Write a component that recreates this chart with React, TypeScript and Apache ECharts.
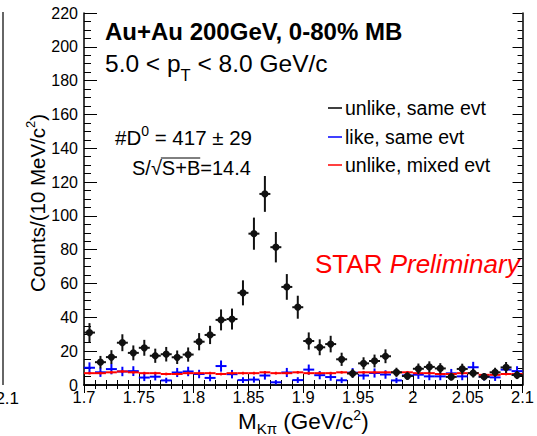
import React, { useEffect, useRef } from "react";
import * as echarts from "echarts";

const massBins = [
  1.705, 1.715, 1.725, 1.735, 1.745, 1.755, 1.765, 1.775, 1.785, 1.795,
  1.805, 1.815, 1.825, 1.835, 1.845, 1.855, 1.865, 1.875, 1.885, 1.895,
  1.905, 1.915, 1.925, 1.935, 1.945, 1.955, 1.965, 1.975, 1.985, 1.995,
  2.005, 2.015, 2.025, 2.035, 2.045, 2.055, 2.065, 2.075, 2.085, 2.095,
];
const unlikeSame = [
  31, 13.5, 16.5, 25, 19, 22, 17.3, 18.2, 16.4, 18,
  25.6, 29.6, 38.5, 39, 54.5, 89.5, 113, 81.5, 58, 46,
  26, 22.3, 24.2, 15.2, 6.8, 12.8, 14.2, 17, 7.5, 5.3,
  9.6, 10.7, 9.8, 4.8, 9.5, 7, 4.9, 7.5, 10.4, 5.9,
];
const unlikeSameErr = [
  5.6, 3.7, 4.1, 5, 4.4, 4.7, 4.2, 4.3, 4, 4.2,
  5.1, 5.4, 6.2, 6.2, 7.4, 9.5, 10.6, 9, 7.6, 6.8,
  5.1, 4.7, 4.9, 3.9, 2.6, 3.6, 3.8, 4.1, 2.7, 2.3,
  3.1, 3.3, 3.1, 2.2, 3.1, 2.6, 2.2, 2.7, 3.2, 2.4,
];
const likeSame = [
  10.2, 7.5, 9.4, 8, 8.2, 4.4, 4.9, 2.7, 7.4, 8,
  6.5, 4.2, 11.2, 6.4, 2.9, 3.2, 5.6, 1.6, 7.4, 2.9,
  9.1, 5.8, 4.7, 2.8, 7.3, 5.6, 7.1, 6.2, 2.7, 5.7,
  6.1, 5.1, 5.1, 6.9, 5.1, 10.5, 4.9, 4.5, 9.1, 8.2,
];
const likeSameErr = [
  3.2, 2.7, 3.1, 2.8, 2.9, 2.1, 2.2, 1.6, 2.7, 2.8,
  2.5, 2, 3.3, 2.5, 1.7, 1.8, 2.4, 1.3, 2.7, 1.7,
  3, 2.4, 2.2, 1.7, 2.7, 2.4, 2.7, 2.5, 1.6, 2.4,
  2.5, 2.3, 2.3, 2.6, 2.3, 3.2, 2.2, 2.1, 3, 2.9,
];
const unlikeMixed = [
  7, 7, 7.5, 8, 7.5, 7, 7, 6.5, 6.5, 7,
  7, 7, 6.5, 7, 7, 7, 7.5, 7, 7, 7.5,
  7, 7, 7, 7.5, 7, 7.5, 7.5, 7.5, 7.5, 7.5,
  7, 7, 6.5, 6.5, 7, 7, 6, 6, 6.5, 6.5,
];
const unlikeMixedErr = [
  0.8, 0.8, 0.8, 0.8, 0.8, 0.8, 0.8, 0.8, 0.8, 0.8,
  0.8, 0.8, 0.8, 0.8, 0.8, 0.8, 0.8, 0.8, 0.8, 0.8,
  0.8, 0.8, 0.8, 0.8, 0.8, 0.8, 0.8, 0.8, 0.8, 0.8,
  0.8, 0.8, 0.8, 0.8, 0.8, 0.8, 0.8, 0.8, 0.8, 0.8,
];
const legendNames = ["unlike, same evt", "like, same evt", "unlike, mixed evt"];
const legendColors = ["#000000", "#0000ff", "#ff0000"];

const FAMILY = "'Liberation Sans', Arial, Helvetica, sans-serif";

let ctx: CanvasRenderingContext2D | null = null;
function measure(text: string, size: number, weight = "normal", style = "normal") {
  if (!ctx) ctx = document.createElement("canvas").getContext("2d");
  ctx!.font = `${style} ${weight} ${size}px ${FAMILY}`;
  return ctx!.measureText(text).width;
}

type Run = { text: string; size: number; dy?: number; weight?: string; style?: string; fill?: string };
function runs(list: Run[], x0: number, baseline: number, fill = "#000") {
  const out: any[] = [];
  let x = x0;
  for (const r of list) {
    const w = measure(r.text, r.size, r.weight || "normal", r.style || "normal");
    const b = baseline + (r.dy || 0);
    out.push({
      type: "text",
      silent: true,
      style: {
        text: r.text,
        x,
        y: b - 0.346 * r.size,
        fontSize: r.size,
        fontFamily: FAMILY,
        fontWeight: r.weight || "normal",
        fontStyle: r.style || "normal",
        fill: r.fill || fill,
        align: "left",
        verticalAlign: "middle",
        textAlign: "left",
        textVerticalAlign: "middle",
      },
    });
    x += w;
  }
  return { els: out, end: x };
}

function errSeries(name: string, vals: number[], errs: number[], color: string, lw: number, marker: number, z: number) {
  return {
    type: "custom",
    name,
    xAxisIndex: 0,
    yAxisIndex: 0,
    clip: true,
    z,
    encode: { x: 0, y: 1 },
    data: massBins.map((m, i) => [m, vals[i], errs[i]]),
    renderItem: (_p: any, api: any) => {
      const x = api.value(0);
      const y = api.value(1);
      const e = api.value(2);
      const l = api.coord([x - 0.005, y]);
      const r = api.coord([x + 0.005, y]);
      const t = api.coord([x, y + e]);
      const b = api.coord([x, Math.max(0, y - e)]);
      const st = { stroke: color, lineWidth: lw };
      const children: any[] = [
        { type: "line", shape: { x1: l[0], y1: l[1], x2: r[0], y2: r[1] }, style: st },
        { type: "line", shape: { x1: t[0], y1: t[1], x2: b[0], y2: b[1] }, style: st },
      ];
      if (marker > 0) {
        const c = api.coord([x, y]);
        children.push({ type: "circle", shape: { cx: c[0], cy: c[1], r: marker }, style: { fill: color } });
      }
      return { type: "group", children };
    },
  };
}

export default function App() {
  const ref = useRef<HTMLDivElement>(null);
  useEffect(() => {
    if (!ref.current) return;
    const chart = echarts.init(ref.current, null, { renderer: "svg" });

    const graphics: any[] = [];
    // Title lines
    graphics.push(...runs([{ text: "Au+Au 200GeV, 0-80% MB", size: 24, weight: "bold" }], 105, 40).els);
    graphics.push(
      ...runs(
        [
          { text: "5.0 < p", size: 24.5 },
          { text: "T", size: 16.5, dy: 9 },
          { text: " < 8.0 GeV/c", size: 24.5 },
        ],
        105,
        72
      ).els
    );
    // Legend
    const legY = [108, 137, 165];
    legendNames.forEach((n, i) => {
      graphics.push({
        type: "line",
        silent: true,
        shape: { x1: 328, y1: legY[i], x2: 342, y2: legY[i] },
        style: { stroke: legendColors[i], lineWidth: 1.5 },
      });
      graphics.push(...runs([{ text: n, size: 19.5 }], 345, legY[i] + 7).els);
    });
    // Annotations
    graphics.push(
      ...runs(
        [
          { text: "#D", size: 20.5 },
          { text: "0", size: 14, dy: -9 },
          { text: " = 417 ± 29", size: 20.5 },
        ],
        115,
        145
      ).els
    );
    const a = runs([{ text: "S/", size: 20 }, { text: "√", size: 20 }], 132, 175);
    graphics.push(...a.els);
    const bRun = runs([{ text: "S+B", size: 20 }], a.end, 175);
    graphics.push(...bRun.els);
    graphics.push({
      type: "line",
      silent: true,
      shape: { x1: a.end - 1, y1: 175 - 17, x2: bRun.end, y2: 175 - 17 },
      style: { stroke: "#000", lineWidth: 1 },
    });
    graphics.push(...runs([{ text: "=14.4", size: 20 }], bRun.end, 175).els);
    // STAR Preliminary
    graphics.push(
      ...runs(
        [
          { text: "STAR ", size: 26, fill: "#ff0000" },
          { text: "Preliminary", size: 26, style: "italic", fill: "#ff0000" },
        ],
        315,
        273
      ).els
    );
    // X axis title
    graphics.push(
      ...runs(
        [
          { text: "M", size: 22.5 },
          { text: "Kπ", size: 15, dy: 5 },
          { text: " (GeV/c", size: 22.5 },
          { text: "2", size: 14, dy: -9 },
          { text: ")", size: 22.5 },
        ],
        238,
        429
      ).els
    );
    // Y axis title (rotated group)
    graphics.push({
      type: "group",
      x: 45,
      y: 292,
      rotation: Math.PI / 2,
      silent: true,
      children: runs(
        [
          { text: "Counts/(10 MeV/c", size: 20.5 },
          { text: "2", size: 13, dy: -10 },
          { text: ")", size: 20.5 },
        ],
        0,
        0
      ).els,
    });
    // left-edge remnant of neighbouring panel
    graphics.push({
      type: "line",
      silent: true,
      shape: { x1: 3, y1: 12, x2: 3, y2: 385 },
      style: { stroke: "#333", lineWidth: 1.5 },
    });
    graphics.push(
      ...runs([{ text: "2.1", size: 17 }], 19 - measure("2.1", 17), 404).els
    );

    const axisLine = { show: true, lineStyle: { color: "#000", width: 1.5 } };
    const fmtX = (v: number) => String(parseFloat(v.toFixed(2)));

    chart.setOption({
      animation: false,
      backgroundColor: "#fff",
      grid: { left: 84, right: 11, top: 13, bottom: 51, containLabel: false },
      xAxis: [
        {
          type: "value",
          min: 1.7,
          max: 2.1,
          interval: 0.05,
          position: "bottom",
          axisLine,
          axisTick: { show: true, inside: true, length: 11, lineStyle: { color: "#000", width: 1 } },
          minorTick: { show: true, splitNumber: 5, length: 5, lineStyle: { color: "#000", width: 1 } },
          splitLine: { show: false },
          minorSplitLine: { show: false },
          axisLabel: {
            show: true,
            margin: 3,
            fontSize: 16.5,
            fontFamily: FAMILY,
            color: "#000",
            formatter: fmtX,
          },
        },
        {
          type: "value",
          min: 1.7,
          max: 2.1,
          interval: 0.05,
          position: "top",
          axisLine,
          axisTick: { show: true, inside: true, length: 8, lineStyle: { color: "#000", width: 1 } },
          minorTick: { show: true, splitNumber: 5, length: 4, lineStyle: { color: "#000", width: 1 } },
          splitLine: { show: false },
          axisLabel: { show: false },
        },
      ],
      yAxis: [
        {
          type: "value",
          min: 0,
          max: 220,
          interval: 20,
          position: "left",
          axisLine,
          axisTick: { show: true, inside: true, length: 13, lineStyle: { color: "#000", width: 1 } },
          minorTick: { show: true, splitNumber: 4, length: 7, lineStyle: { color: "#000", width: 1 } },
          splitLine: { show: false },
          minorSplitLine: { show: false },
          axisLabel: { show: true, margin: 6, fontSize: 16, fontFamily: FAMILY, color: "#000" },
        },
        {
          type: "value",
          min: 0,
          max: 220,
          interval: 20,
          position: "right",
          axisLine,
          axisTick: { show: true, inside: true, length: 10, lineStyle: { color: "#000", width: 1 } },
          minorTick: { show: true, splitNumber: 4, length: 5, lineStyle: { color: "#000", width: 1 } },
          splitLine: { show: false },
          axisLabel: { show: false },
        },
      ],
      series: [
        errSeries("like, same evt", likeSame, likeSameErr, "#0000ff", 2, 0, 2),
        errSeries("unlike, mixed evt", unlikeMixed, unlikeMixedErr, "#ff0000", 2, 0, 3),
        errSeries("unlike, same evt", unlikeSame, unlikeSameErr, "#111111", 2, 3.6, 4),
      ],
      graphic: { elements: graphics },
    });
    return () => chart.dispose();
  }, []);
  return (
    <div
      ref={ref}
      style={{ position: "fixed", left: 0, top: 0, width: 537, height: 436, background: "#fff" }}
    />
  );
}
